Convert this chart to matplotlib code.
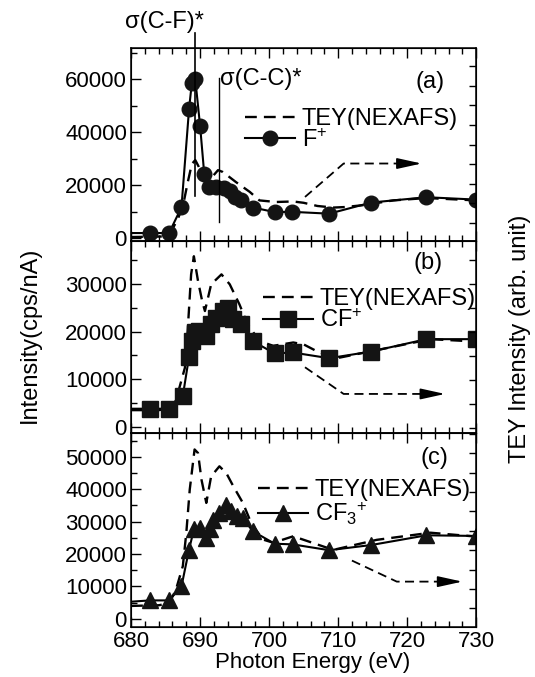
import matplotlib
matplotlib.use('Agg')
import matplotlib.pyplot as plt
from matplotlib.ticker import MultipleLocator, NullFormatter

plt.rcParams['font.family'] = ['Liberation Sans', 'DejaVu Sans']
plt.rcParams['mathtext.fontset'] = 'custom'
plt.rcParams['mathtext.rm'] = 'Liberation Sans'
plt.rcParams['mathtext.it'] = 'Liberation Sans'
plt.rcParams['mathtext.default'] = 'rm'

# ── (a) F+ ion yield ──
F_X = [680, 682.8, 685.5, 687.3, 688.4, 688.8, 689.3, 690.0, 690.6, 691.3, 692.3,
       693.4, 694.3, 695.0, 695.9, 697.7, 700.8, 703.3, 708.7, 714.8, 722.8, 730.0]
F_Y = [2000, 2000, 2000, 11700, 48700, 58500, 60000, 42400, 24300, 19200, 19400,
       19000, 18000, 15600, 14300, 11600, 9900, 10000, 9300, 13500, 15500, 14600]

TEY_A_X = [680, 684.5, 686.0, 686.8, 687.5, 688.2, 688.8, 689.3, 689.8, 690.4, 691.0,
           691.7, 692.6, 693.3, 695.2, 697.2, 698.6, 701.0, 703.5, 705.0, 707.0,
           709.3, 711.0, 713.6, 718.0, 722.8, 726.0, 730.0]
TEY_A_Y = [500, 700, 3500, 7500, 12000, 21000, 28000, 29500, 27000, 23000, 21500,
           23000, 25700, 25000, 21200, 17500, 14300, 13700, 13900, 13400, 12200,
           11600, 11800, 12500, 14300, 15200, 14800, 14300]

# ── (b) CF+ ion yield ──
CF_X = [680, 682.8, 685.5, 687.5, 688.4, 688.8, 689.2, 689.8, 690.9, 691.6, 692.3,
        693.3, 694.0, 694.7, 695.9, 697.6, 700.8, 703.4, 708.7, 714.8, 722.8, 730.0]
CF_Y = [3800, 3800, 3800, 6500, 14700, 18000, 19800, 20100, 19100, 21500, 22900,
        24300, 25000, 22600, 21500, 18000, 15400, 15600, 14400, 15800, 18400, 18400]

TEY_B_X = [680, 684.0, 685.5, 686.5, 687.0, 687.8, 688.2, 688.7, 689.1, 689.7, 690.3,
           690.7, 691.6, 693.1, 694.3, 695.7, 696.9, 698.6, 700.6, 703.5, 705.0,
           707.0, 709.8, 715.6, 723.4, 730.0]
TEY_B_Y = [3500, 3500, 3800, 5500, 8200, 12400, 20100, 32000, 35800, 30600, 26400,
           24300, 29900, 32000, 29900, 25700, 21500, 18000, 17000, 17700, 17300,
           15800, 14400, 16100, 18400, 17900]

# ── (c) CF3+ ion yield ──
CF3_X = [680, 682.7, 685.5, 687.3, 688.4, 689.1, 690.0, 690.8, 691.4, 691.9, 692.8,
         693.8, 694.5, 695.4, 696.2, 697.6, 700.8, 703.4, 708.7, 714.8, 722.8, 730.0]
CF3_Y = [5300, 5700, 5700, 10000, 21400, 27600, 28000, 25000, 27600, 30500, 32800,
         35000, 33200, 31700, 31200, 27100, 23200, 23000, 21200, 22800, 25800, 25600]

TEY_C_X = [680, 684.0, 685.5, 686.5, 687.5, 688.0, 688.5, 689.2, 689.7, 690.2, 690.9,
           691.6, 692.8, 693.8, 694.8, 696.2, 697.4, 699.1, 700.6, 703.5, 709.3,
           715.6, 723.4, 730.0]
TEY_C_Y = [4000, 4200, 4800, 9000, 16300, 26500, 39900, 52300, 51200, 43000, 35800,
           44000, 47100, 45000, 41000, 35800, 29600, 24500, 23500, 25500, 21300,
           24400, 26600, 25400]

# dashed arrows pointing to the right-hand (TEY) axis
ARROW_A_X = [705.2, 710.8, 722.1]
ARROW_A_Y = [15600, 28200, 28200]
ARROW_B_X = [705.2, 710.8, 725.5]
ARROW_B_Y = [12500, 6900, 6900]
ARROW_C_X = [712.0, 718.5, 728.0]
ARROW_C_Y = [18000, 11500, 11500]

# resonance markers in (a)
CF_RES_X = 689.3
CF_RES_Y = [15800, 77400]
CC_RES_X = 692.8
CC_RES_Y = [6150, 60400]

PANELS = [
    dict(tag='(a)', ion_x=F_X, ion_y=F_Y, tey_x=TEY_A_X, tey_y=TEY_A_Y,
         arr_x=ARROW_A_X, arr_y=ARROW_A_Y, label='F$^{+}$', marker='o', ms=10.5,
         ylim=(-1000, 71700), major=20000, minor=10000,
         rlim=(-0.92, 8.93), pos=[0.245, 0.644, 0.645, 0.285],
         leg=(0.330, 0.690), tagpos=(0.867, 0.824)),
    dict(tag='(b)', ion_x=CF_X, ion_y=CF_Y, tey_x=TEY_B_X, tey_y=TEY_B_Y,
         arr_x=ARROW_B_X, arr_y=ARROW_B_Y, label='CF$^{+}$', marker='s', ms=11,
         ylim=(-1300, 39000), major=10000, minor=5000,
         rlim=(-0.21, 7.8), pos=[0.245, 0.3604, 0.645, 0.2836],
         leg=(0.383, 0.755), tagpos=(0.861, 0.884)),
    dict(tag='(c)', ion_x=CF3_X, ion_y=CF3_Y, tey_x=TEY_C_X, tey_y=TEY_C_Y,
         arr_x=ARROW_C_X, arr_y=ARROW_C_Y, label='CF$_{3}$$^{+}$', marker='^', ms=11.5,
         ylim=(-2500, 57400), major=10000, minor=5000,
         rlim=(-0.96, 9.04), pos=[0.245, 0.0739, 0.645, 0.2866],
         leg=(0.368, 0.762), tagpos=(0.88, 0.870)),
]

DASH = (0, (5, 3))

fig = plt.figure(figsize=(5.35, 6.77), dpi=100)

for i, p in enumerate(PANELS):
    ax = fig.add_axes(p['pos'])
    tey, = ax.plot(p['tey_x'], p['tey_y'], color='black', lw=1.7, linestyle=DASH)
    ion, = ax.plot(p['ion_x'], p['ion_y'], color='black', lw=1.5,
                   marker=p['marker'], ms=p['ms'], markerfacecolor='#141414',
                   markeredgecolor='#141414', markevery=list(range(1, len(p['ion_x']))))

    # arrow to the TEY axis
    ax.plot(p['arr_x'][:-1] + [p['arr_x'][-1] - 1.5], p['arr_y'][:-1] + [p['arr_y'][-1]],
            color='black', lw=1.3, linestyle=DASH)
    ax.annotate('', xy=(p['arr_x'][-1], p['arr_y'][-1]),
                xytext=(p['arr_x'][-1] - 2.2, p['arr_y'][-1]),
                arrowprops=dict(arrowstyle='-|>,head_length=1.0,head_width=0.22',
                                mutation_scale=15, color='black', lw=1.2,
                                shrinkA=0, shrinkB=0))

    ax.set_xlim(680, 730)
    ax.set_ylim(*p['ylim'])
    ax.xaxis.set_major_locator(MultipleLocator(10))
    ax.xaxis.set_minor_locator(MultipleLocator(2))
    ax.yaxis.set_major_locator(MultipleLocator(p['major']))
    ax.yaxis.set_minor_locator(MultipleLocator(p['minor']))
    ax.tick_params(which='both', direction='in', top=True, right=False,
                   labelsize=16, width=1.0, pad=3)
    ax.tick_params(which='major', length=7)
    ax.tick_params(which='minor', length=4)
    if i < 2:
        ax.xaxis.set_major_formatter(NullFormatter())
    for s in ax.spines.values():
        s.set_linewidth(1.1)

    ax2 = ax.twinx()
    ax2.set_ylim(*p['rlim'])
    ax2.yaxis.set_major_locator(MultipleLocator(1))
    ax2.yaxis.set_major_formatter(NullFormatter())
    ax2.tick_params(direction='in', length=5, width=1.0)

    ax.legend([tey, ion], ['TEY(NEXAFS)', p['label']], loc='upper left',
              bbox_to_anchor=p['leg'], borderaxespad=0, borderpad=0,
              frameon=False, fontsize=17, handlelength=2.1, handletextpad=0.3,
              labelspacing=-0.05, numpoints=1)
    ax.text(p['tagpos'][0], p['tagpos'][1], p['tag'], transform=ax.transAxes,
            ha='center', va='center', fontsize=17)

    if i == 0:
        ax.plot([CF_RES_X, CF_RES_X], CF_RES_Y, color='black', lw=1.2, clip_on=False)
        ax.plot([CC_RES_X, CC_RES_X], CC_RES_Y, color='black', lw=1.0, clip_on=False)
        ax.text(684.9, 81600, 'σ(C-F)*', ha='center', va='center', fontsize=17,
                clip_on=False)
        ax.text(692.9, 60000, 'σ(C-C)*', ha='left', va='center', fontsize=17)

fig.text(0.056, 0.505, 'Intensity(cps/nA)', rotation=90, ha='center', va='center',
         fontsize=17)
fig.text(0.972, 0.50, 'TEY Intensity (arb. unit)', rotation=90, ha='center',
         va='center', fontsize=17)
fig.text(0.585, 0.021, 'Photon Energy (eV)', ha='center', va='center', fontsize=16)

fig.savefig('out.png', dpi=100)
